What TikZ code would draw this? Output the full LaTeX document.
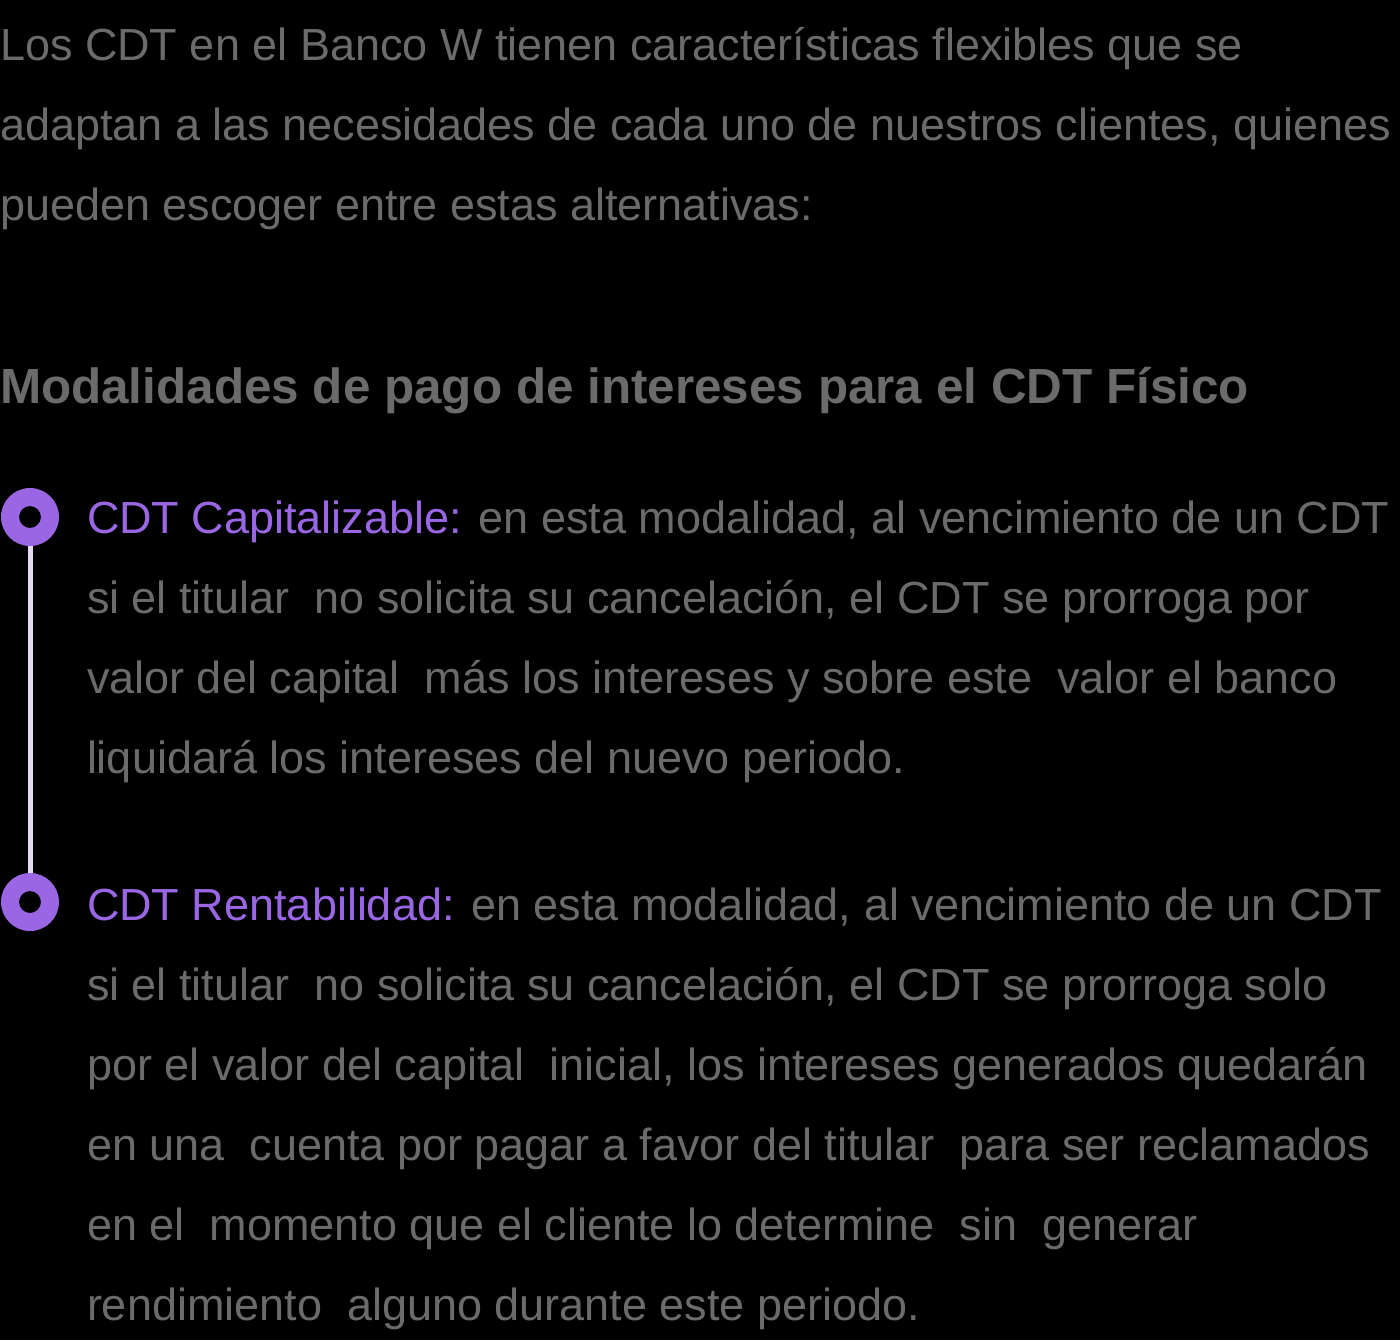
\documentclass[tikz,border=0pt]{standalone}
\usepackage{fontspec}
\setmainfont{Liberation Sans}
\definecolor{txtgray}{HTML}{6B6B6B}
\definecolor{purp}{HTML}{9A66E4}
\definecolor{lav}{HTML}{E4DAF4}
\tikzset{
  ln/.style={anchor=base west, inner sep=0pt, outer sep=0pt, text=txtgray, font=\fontsize{22.5}{40}\selectfont},
  hd/.style={anchor=base west, inner sep=0pt, outer sep=0pt, text=txtgray, font=\fontsize{24.7}{40}\selectfont\bfseries},
  ring/.style={fill=purp, even odd rule},
  conn/.style={draw=lav, line width=2.5pt}
}
\newcommand{\pt}[1]{{\color{purp}#1}}
\newcommand{\xs}{\hspace{6.25pt}}
\begin{document}
\begin{tikzpicture}[x=0.5pt,y=-0.5pt]
\fill[black] (0,0) rectangle (1400,1340);
\useasboundingbox (0,0) rectangle (1400,1340);
% intro
\node[ln] (i1) at (0,60) {Los CDT en el Banco W tienen características flexibles que se};
\node[ln] (i2) at (0,140) {adaptan a las necesidades de cada uno de nuestros clientes, quienes};
\node[ln] (i3) at (0,220) {pueden escoger entre estas alternativas:};
% heading
\node[hd] (h) at (0,403) {Modalidades de pago de intereses para el CDT Físico};
% markers
\coordinate (c1) at (30,517);
\coordinate (c2) at (30,902);
\draw[conn] (30,546) -- (30,873);
\path[ring] (c1) circle[radius=29] (c1) circle[radius=11];
\path[ring] (c2) circle[radius=29] (c2) circle[radius=11];
% bullet 1
\node[ln] (a1) at (87,533) {\pt{CDT Capitalizable:} en esta modalidad, al vencimiento de un CDT};
\node[ln] (a2) at (87,613) {si el titular \xs no solicita su cancelación, el CDT se prorroga por};
\node[ln] (a3) at (87,693) {valor del capital \xs más los intereses y sobre este \xs valor el banco};
\node[ln] (a4) at (87,773) {liquidará los intereses del nuevo periodo.};
% bullet 2
\node[ln] (b1) at (87,920) {\pt{CDT Rentabilidad:} en esta modalidad, al vencimiento de un CDT};
\node[ln] (b2) at (87,1000) {si el titular \xs no solicita su cancelación, el CDT se prorroga solo};
\node[ln] (b3) at (87,1080) {por el valor del capital \xs inicial, los intereses generados quedarán};
\node[ln] (b4) at (87,1160) {en una \xs cuenta por pagar a favor del titular \xs para ser reclamados};
\node[ln] (b5) at (87,1240) {en el \xs momento que el cliente lo determine \xs sin \xs generar};
\node[ln] (b6) at (87,1320) {rendimiento \xs alguno durante este periodo.};
\end{tikzpicture}
\end{document}
